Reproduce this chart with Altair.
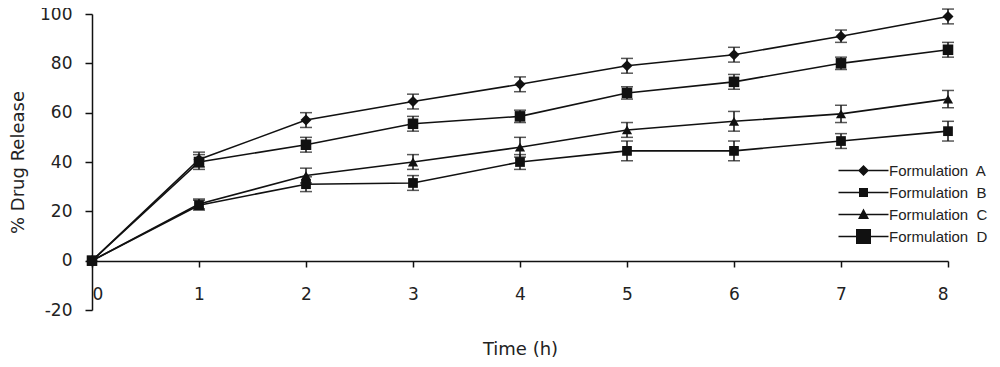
import altair as alt
import pandas as pd

time_h = [0, 1, 2, 3, 4, 5, 6, 7, 8]
formulations = ["Formulation\u00a0 A", "Formulation\u00a0 B", "Formulation\u00a0 C", "Formulation\u00a0 D"]
release_a = [0, 41, 57, 64.5, 71.5, 79, 83.5, 91, 99]
release_b = [0, 40, 47, 55.5, 58.5, 68, 72.5, 80, 85.5]
release_c = [0, 23, 34.5, 40, 46, 53, 56.5, 59.5, 65.5]
release_d = [0, 22.5, 31, 31.5, 40, 44.5, 44.5, 48.5, 52.5]
error_a = [0, 3, 3, 3, 3, 3, 3, 2.5, 3]
error_b = [0, 3, 3, 3, 2.5, 2.5, 3, 2.5, 3]
error_c = [0, 2, 3, 3, 4, 3, 4, 3.5, 3.5]
error_d = [0, 2, 3, 3, 3, 4, 4, 3, 4]
y_ticks = [-20, 0, 20, 40, 60, 80, 100]

point_shapes = ["diamond", "square", "triangle-up", "square"]
point_sizes = [120, 95, 125, 230]
legend_paths = [
    "M-5,-0.15H5V0.15H-5Z M0,-1.1L1.1,0L0,1.1L-1.1,0Z",
    "M-5,-0.15H5V0.15H-5Z M-0.9,-0.9H0.9V0.9H-0.9Z",
    "M-5,-0.15H5V0.15H-5Z M0,-1.2L1.1,0.9H-1.1Z",
    "M-5,-0.15H5V0.15H-5Z M-1.5,-1.5H1.5V1.5H-1.5Z",
]

series = list(zip(formulations, [release_a, release_b, release_c, release_d],
                  [error_a, error_b, error_c, error_d]))
rows = []
for f, vals, errs in series:
    for t, v, e in zip(time_h, vals, errs):
        rows.append({"Time": t, "Release": v, "lo": v - e, "hi": v + e, "Formulation": f})
df = pd.DataFrame(rows)

FONT = "DejaVu Sans"
LEGEND_FONT = "Liberation Sans"
INK = "#111111"
TXT = "#222222"

x = alt.X("Time:Q", scale=alt.Scale(domain=[0, 8], nice=False),
          axis=alt.Axis(values=time_h, format="d", title="Time (h)", offset=-49, tickSize=6, labelPadding=19,
                        grid=False, titleX=428, titleY=88, titleBaseline="middle", titleAnchor="middle"))
y = alt.Y("Release:Q", scale=alt.Scale(domain=[-20, 100], nice=False),
          axis=alt.Axis(values=y_ticks, labelExpr="'' + datum.value", title="% Drug Release", tickSize=7,
                        labelPadding=13, grid=False, titleX=-74, titleY=148, titleAngle=-90,
                        titleBaseline="middle", titleAnchor="middle"))

base = alt.Chart(df)

lines = base.mark_line(color=INK, strokeWidth=1.6).encode(x=x, y=y, detail="Formulation:N")

err = base.transform_filter("datum.Time > 0").mark_rule(color=INK, strokeWidth=1.5).encode(
    x="Time:Q", y="lo:Q", y2="hi:Q")
cap_lo = base.transform_filter("datum.Time > 0").mark_tick(
    color=INK, orient="horizontal", size=12, thickness=1.5).encode(x="Time:Q", y="lo:Q")
cap_hi = base.transform_filter("datum.Time > 0").mark_tick(
    color=INK, orient="horizontal", size=12, thickness=1.5).encode(x="Time:Q", y="hi:Q")

points = base.mark_point(filled=True, color=INK, opacity=1).encode(
    x="Time:Q", y="Release:Q",
    shape=alt.Shape("Formulation:N", scale=alt.Scale(domain=formulations, range=point_shapes), legend=None),
    size=alt.Size("Formulation:N", scale=alt.Scale(domain=formulations, range=point_sizes), legend=None),
)

legend_layer = base.transform_filter("datum.Time == 0").mark_point(filled=True, color=INK, opacity=0).encode(
    x="Time:Q", y="Release:Q",
    shape=alt.Shape("Formulation:N", scale=alt.Scale(domain=formulations, range=legend_paths),
                    legend=alt.Legend(title=None, orient="none", legendX=764, legendY=149,
                                      symbolSize=100, symbolOpacity=1, symbolFillColor=INK,
                                      symbolStrokeWidth=0, labelFont=LEGEND_FONT, labelFontSize=15,
                                      labelColor=TXT, labelOffset=18, rowPadding=6, padding=0)),
)

chart = alt.layer(lines, err, cap_lo, cap_hi, points, legend_layer).resolve_scale(
    shape="independent", size="independent"
).properties(
    width=856, height=296,
    autosize=alt.AutoSizeParams(type="none"),
    padding={"left": 84, "top": 6, "right": 44, "bottom": 49},
    background="white",
).configure_view(stroke=None).configure_axis(
    labelFont=FONT, titleFont=FONT, labelFontSize=17, titleFontSize=18, titleFontWeight="normal",
    labelColor=TXT, titleColor=TXT, domainColor=INK, tickColor=INK,
    domainWidth=1.5, tickWidth=1.5,
)

chart.save("out.html", embed_options={"renderer": "svg", "actions": False})
